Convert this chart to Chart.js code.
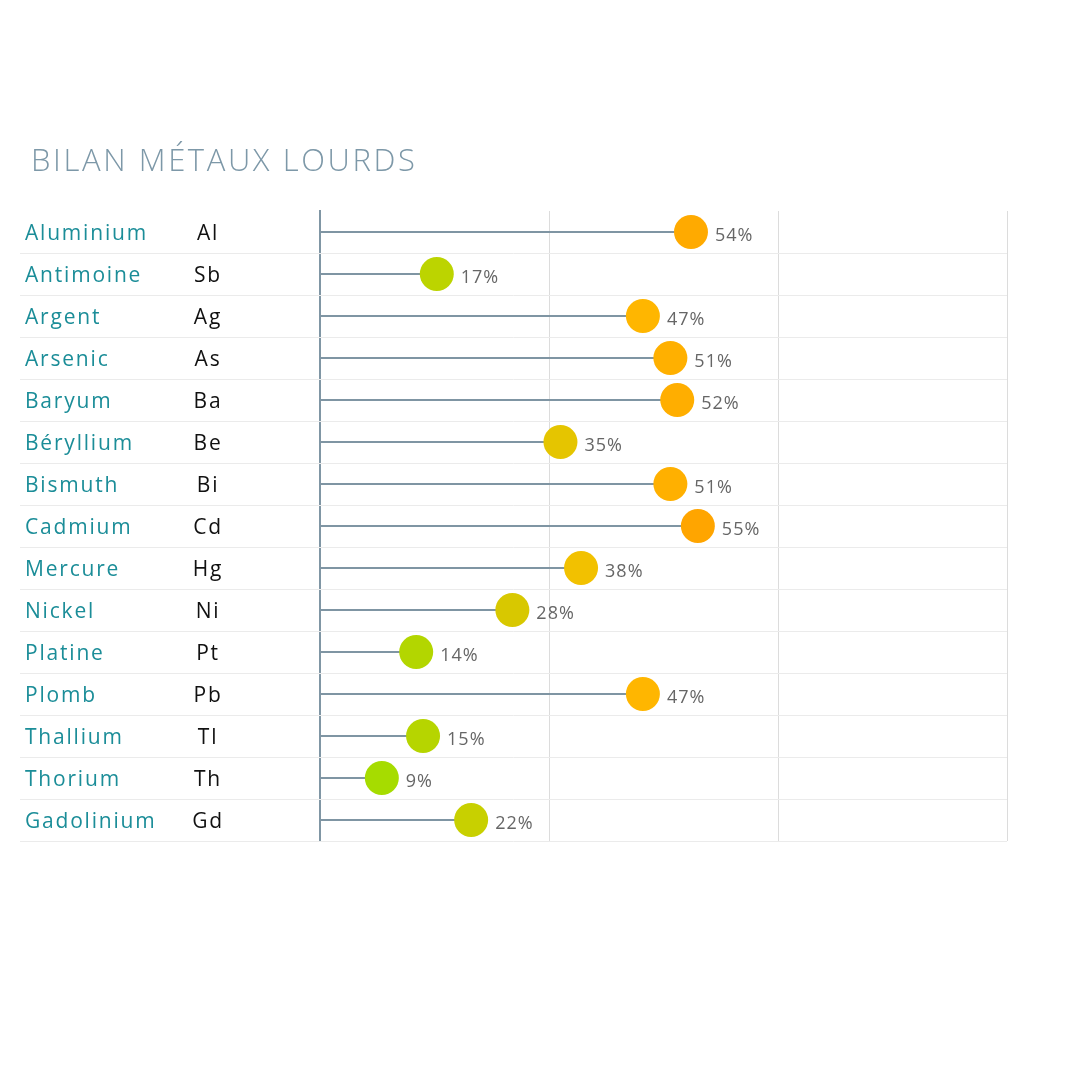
<!DOCTYPE html>
<html>
<head>
<meta charset="utf-8">
<script src="https://cdn.jsdelivr.net/npm/chart.js@4/dist/chart.umd.min.js"></script>
<style>
  body { margin: 0; background: #fff; }
  #wrap { width: 1080px; height: 1080px; }
</style>
</head>
<body>
<div id="wrap"><canvas id="chart" width="1080" height="1080"></canvas></div>
<script>
// Données
var names = ['Aluminium', 'Antimoine', 'Argent', 'Arsenic', 'Baryum', 'Béryllium', 'Bismuth', 'Cadmium',
             'Mercure', 'Nickel', 'Platine', 'Plomb', 'Thallium', 'Thorium', 'Gadolinium'];
var symbols = ['Al', 'Sb', 'Ag', 'As', 'Ba', 'Be', 'Bi', 'Cd', 'Hg', 'Ni', 'Pt', 'Pb', 'Tl', 'Th', 'Gd'];
var values = [54, 17, 47, 51, 52, 35, 51, 55, 38, 28, 14, 47, 15, 9, 22];
var dotColors = ['#ffaa00', '#bcd400', '#ffb600', '#ffb000', '#ffae00', '#e5c500', '#ffb000', '#ffa500',
                 '#f2c100', '#d8c800', '#b3d600', '#ffb600', '#b6d500', '#a6dc00', '#c8d000'];
var title = 'BILAN MÉTAUX LOURDS';

var FONT = '"Open Sans", sans-serif';

// Texte et lignes du tableau
var tablePlugin = {
  id: 'table',
  beforeDatasetsDraw: function(chart) {
    var ctx = chart.ctx;
    var area = chart.chartArea;
    var step = (area.bottom - area.top) / names.length;
    ctx.save();
    ctx.strokeStyle = '#ebebeb';
    ctx.lineWidth = 1;
    for (var i = 1; i <= names.length; i++) {
      var yy = Math.round(area.top + i * step) + 0.5;
      ctx.beginPath();
      ctx.moveTo(20, yy);
      ctx.lineTo(area.right, yy);
      ctx.stroke();
    }
    ctx.restore();
  },
  afterDatasetsDraw: function(chart) {
    var ctx = chart.ctx;
    var y = chart.scales.y;
    var dots = chart.getDatasetMeta(1).data;
    ctx.save();
    ctx.textBaseline = 'middle';

    ctx.fillStyle = '#7d98a8';
    ctx.font = '300 31px ' + FONT;
    ctx.letterSpacing = '2.6px';
    ctx.textAlign = 'left';
    ctx.fillText(title, 31, 162);

    for (var i = 0; i < names.length; i++) {
      var cy = y.getPixelForValue(i);
      ctx.font = '400 21px ' + FONT;
      ctx.letterSpacing = '1.8px';
      ctx.textAlign = 'left';
      ctx.fillStyle = '#1b8d98';
      ctx.fillText(names[i], 25, cy + 2);
      ctx.textAlign = 'center';
      ctx.fillStyle = '#111';
      ctx.fillText(symbols[i], 208, cy + 2);

      ctx.font = '400 18px ' + FONT;
      ctx.letterSpacing = '1px';
      ctx.textAlign = 'left';
      ctx.fillStyle = '#666';
      ctx.fillText(values[i] + '%', dots[i].x + 24, cy + 4);
    }
    ctx.restore();
  }
};

new Chart(document.getElementById('chart'), {
  type: 'bar',
  data: {
    labels: names,
    datasets: [
      {
        label: 'tige',
        data: values,
        backgroundColor: '#7f95a3',
        barThickness: 1.5,
        order: 2
      },
      {
        type: 'line',
        label: 'points',
        data: values,
        indexAxis: 'y',
        showLine: false,
        pointRadius: 17,
        pointHoverRadius: 17,
        pointBackgroundColor: dotColors,
        pointBorderColor: dotColors,
        pointBorderWidth: 0,
        order: 1
      }
    ]
  },
  options: {
    indexAxis: 'y',
    responsive: false,
    animation: false,
    layout: { padding: { left: 320, right: 73, top: 211, bottom: 239 } },
    plugins: {
      legend: { display: false },
      tooltip: { enabled: false }
    },
    scales: {
      x: {
        min: 0,
        max: 100,
        ticks: { display: false, stepSize: 100 / 3 },
        grid: { color: '#dcdcdc', lineWidth: 1, drawTicks: false },
        border: { display: false },
        afterFit: function(s) { s.height = 0; }
      },
      y: {
        ticks: { display: false },
        grid: { display: false, drawTicks: false },
        border: { display: true, color: '#8096a4', width: 2 },
        afterFit: function(s) { s.width = 0; }
      }
    }
  },
  plugins: [tablePlugin]
});
</script>
</body>
</html>
